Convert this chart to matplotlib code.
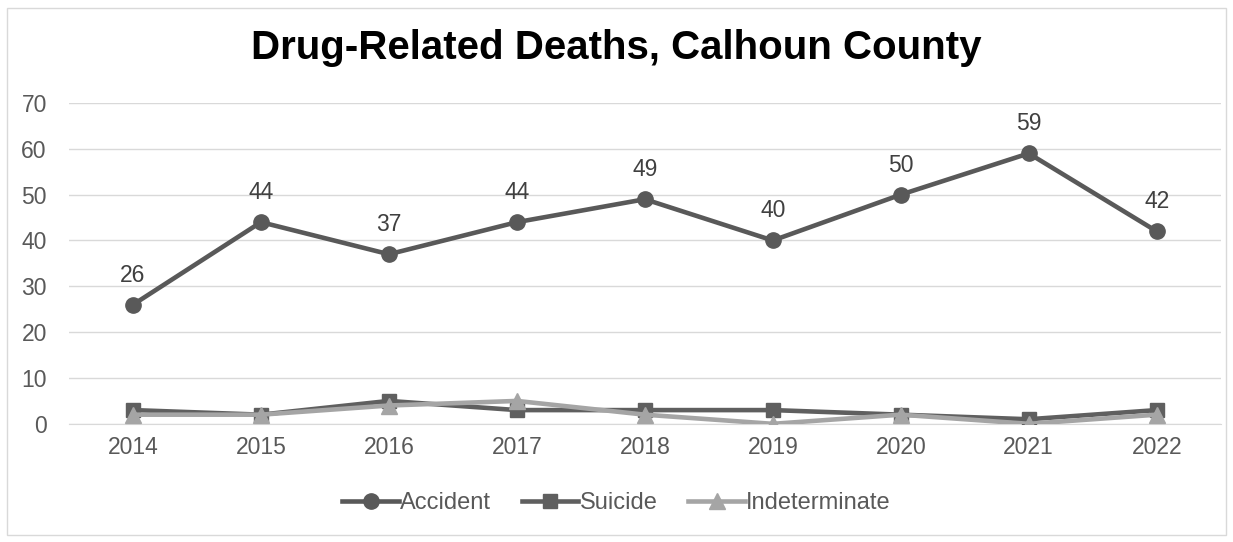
import matplotlib
matplotlib.use("Agg")
import matplotlib.pyplot as plt
from matplotlib.patches import Rectangle

years = ["2014", "2015", "2016", "2017", "2018", "2019", "2020", "2021", "2022"]
accident = [26, 44, 37, 44, 49, 40, 50, 59, 42]
suicide = [3, 2, 5, 3, 3, 3, 2, 1, 3]
indeterminate = [2, 2, 4, 5, 2, 0, 2, 0, 2]

plt.rcParams['font.family'] = ['Liberation Sans', 'DejaVu Sans']

fig = plt.figure(figsize=(12.33, 5.42), dpi=100)
ax = fig.add_axes([0.056, 0.218, 0.934, 0.592])

x = list(range(len(years)))
ax.plot(x, accident, color="#595959", lw=3.3, marker="o", ms=11, label="Accident", zorder=3)
ax.plot(x, suicide, color="#5f5f5f", lw=3.3, marker="s", ms=10, label="Suicide", zorder=3)
ax.plot(x, indeterminate, color="#a5a5a5", lw=3.3, marker="^", ms=11, label="Indeterminate", zorder=4)

for xi, v in zip(x, accident):
    ax.annotate(str(v), (xi, v), xytext=(0, 13), textcoords="offset points",
                ha="center", va="bottom", fontsize=16.5, color="#404040")

ax.set_xlim(-0.5, len(years) - 0.5)
ax.set_ylim(0, 70)
ax.set_yticks(range(0, 71, 10))
ax.set_xticks(x)
ax.set_xticklabels(years)
ax.grid(axis="y", color="#d9d9d9", lw=1)
ax.set_axisbelow(True)
for s in ["top", "right", "left"]:
    ax.spines[s].set_visible(False)
ax.spines["bottom"].set_color("#d9d9d9")
ax.tick_params(length=0, labelsize=16.5, labelcolor="#595959", pad=9)
ax.tick_params(axis="y", pad=16)

fig.text(0.5, 0.911, "Drug-Related Deaths, Calhoun County", ha="center", va="center",
         fontsize=29, fontweight="bold", color="black")

fig.legend(loc="center", bbox_to_anchor=(0.5, 0.072), ncol=3, frameon=False,
           fontsize=17, handlelength=2.4, columnspacing=1.3, handletextpad=0.05,
           labelcolor="#595959")

fig.patches.append(Rectangle((0.006, 0.013), 0.988, 0.973, transform=fig.transFigure,
                             fill=False, edgecolor="#d9d9d9", lw=1))

fig.savefig("out.png", dpi=100)
